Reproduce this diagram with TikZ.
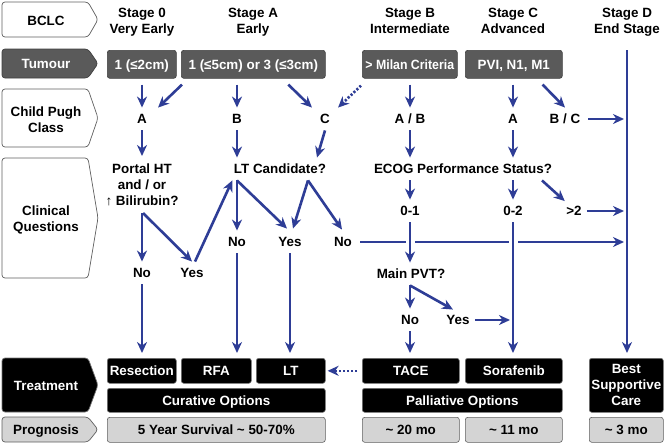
\documentclass[tikz,border=0pt]{standalone}
\usepackage{fontspec}
\usepackage{graphicx}
\setmainfont{Liberation Sans}
\usetikzlibrary{arrows.meta,calc}
\definecolor{arrblue}{HTML}{2E3D96}
\definecolor{tumgray}{HTML}{5A5A5A}
\definecolor{prggray}{HTML}{D4D4D4}
\definecolor{edgegray}{HTML}{5F5F5F}
\tikzset{
  basefont/.style={font=\fontsize{13.4}{16}\selectfont\bfseries},
  lbl/.style={basefont, inner xsep=5pt, inner ysep=6.5pt, text height=9.5pt, text depth=0pt},
  ml/.style={basefont, align=center, inner sep=0pt, anchor=north},
  arr/.style={draw=arrblue, line width=2.6pt, -{Stealth[length=11pt,width=10pt,inset=3.5pt]}},
  dotarr/.style={arr, dash pattern=on 2.2pt off 1.8pt},
  onetxt/.style={text height=9.5pt, text depth=0pt},
  tum/.style={basefont, fill=tumgray, draw=black!75, line width=0.6pt, rounded corners=2.5pt, text=white, inner sep=0pt},
  trt/.style={basefont, fill=black, draw=black!55, line width=0.6pt, rounded corners=2.5pt, text=white, inner sep=0pt},
  prg/.style={basefont, fill=prggray, draw=edgegray, line width=0.6pt, rounded corners=2.5pt, inner sep=0pt},
  chevw/.style={fill=white, draw=edgegray, line width=0.7pt},
  chevd/.style={fill=tumgray, draw=black!75, line width=0.7pt},
  chevb/.style={fill=black, draw=black!55, line width=0.7pt},
  chevg/.style={fill=prggray, draw=edgegray, line width=0.7pt},
}
\newcommand\mybox[7]{\node[#1, onetxt, anchor=north west, minimum width={(#5-#3)*1pt}, minimum height={(#6-#4)*1pt}] (#2) at (#3,#4) {#7};}
\newcommand\mychev[3]{\draw[#1, rounded corners=3pt] (2,#2) -- (88,#2) -- (98,{(#2+#3)/2}) -- (88,#3) -- (2,#3) -- cycle;}
\begin{document}
\begin{tikzpicture}[x=1pt,y=-1pt]
\useasboundingbox (0,0) rectangle (666,445);
% left chevrons
\mychev{chevw}{2}{37}
\mychev{chevd}{49}{78}
\mychev{chevw}{89}{147}
\mychev{chevw}{158}{278}
\mychev{chevb}{358}{412}
\mychev{chevg}{417}{442}
\node[lbl] (lBCLC) at (46,21) {BCLC};
\node[lbl, text=white] (lTum) at (46,64) {Tumour};
\node[ml] (lCP) at (46,107) {Child Pugh\\Class};
\node[ml] (lCQ) at (46,206) {Clinical\\Questions};
\node[lbl, text=white] (lTr) at (46,386) {Treatment};
\node[lbl] (lPr) at (46,430) {Prognosis};
% stages
\node[ml] (s0) at (142,8) {Stage 0\\Very Early};
\node[ml] (sA) at (253,8) {Stage A\\Early};
\node[ml] (sB) at (410,8) {Stage B\\Intermediate};
\node[ml] (sC) at (513,8) {Stage C\\Advanced};
\node[ml] (sD) at (627,8) {Stage D\\End Stage};
% tumour boxes
\mybox{tum}{t1}{107}{50}{176}{78}{1 (≤2cm)}
\mybox{tum}{t2}{181}{50}{325}{78}{1 (≤5cm) or 3 (≤3cm)}
\mybox{tum}{t3}{362}{50}{457}{78}{\scalebox{0.92}[1]{> Milan Criteria}}
\mybox{tum}{t4}{465}{50}{562}{78}{PVI, N1, M1}
% treatment boxes
\mybox{trt}{rRes}{107}{358}{176}{383}{Resection}
\mybox{trt}{rRFA}{181}{358}{251}{383}{RFA}
\mybox{trt}{rLT}{256}{358}{325}{383}{LT}
\mybox{trt}{rCur}{107}{388}{325}{412}{Curative Options}
\mybox{trt}{rTACE}{362}{358}{459}{383}{TACE}
\mybox{trt}{rSor}{465}{358}{562}{383}{Sorafenib}
\mybox{trt}{rPal}{362}{388}{562}{412}{Palliative Options}
\node[trt, align=center, anchor=north west, minimum width=74pt, minimum height=54pt] (rBSC) at (589,358) {Best\\Supportive\\Care};
% prognosis boxes
\mybox{prg}{p1}{107}{417}{325}{442}{5 Year Survival \textasciitilde{} 50-70\%}
\mybox{prg}{p2}{362}{417}{459}{442}{\textasciitilde{} 20 mo}
\mybox{prg}{p3}{465}{417}{562}{442}{\textasciitilde{} 11 mo}
\mybox{prg}{p4}{589}{417}{663}{442}{\textasciitilde{} 3 mo}
% child pugh labels
\node[lbl] (cA1) at (142,119) {A};
\node[lbl] (cB) at (237,119) {B};
\node[lbl] (cC) at (325,119) {C};
\node[lbl] (cAB) at (410,119) {A / B};
\node[lbl] (cA2) at (513,119) {A};
\node[lbl] (cBC) at (565,119) {B / C};
% clinical questions
\node[ml] (qP) at (142,164) {Portal HT\\and / or\\↑ Bilirubin?};
\node[lbl] (qLT) at (280,169) {LT Candidate?};
\node[lbl] (qE) at (463,169) {ECOG Performance Status?};
\node[lbl] (n1) at (142,273) {No};
\node[lbl] (y1) at (192,273) {Yes};
\node[lbl] (n2) at (237,242) {No};
\node[lbl] (y2) at (290,242) {Yes};
\node[lbl] (n3) at (343,242) {No};
\node[lbl] (e01) at (410,211) {0-1};
\node[lbl] (e02) at (513,211) {0-2};
\node[lbl] (e2) at (574,211) {>2};
\node[lbl] (mp) at (411,274) {Main PVT?};
\node[lbl] (n4) at (410,320) {No};
\node[lbl] (y4) at (458,320) {Yes};
\coordinate (dtop) at (627,50);
% tumour -> child pugh
\draw[arr, shorten <=6pt] (cA1 |- t1.south) -- (cA1.north);
\draw[arr] ($(t2.south west)+(1,6)$) -- ($(cA1.north east)+(6,0)$);
\draw[arr, shorten <=6pt] (cB |- t2.south) -- (cB.north);
\draw[arr] ($(t2.south)+(35,6)$) -- ($(cC.north west)+(-3,0)$);
\draw[dotarr] ($(t3.south west)+(-1,7)$) -- ($(cC.north east)+(3,0)$);
\draw[arr, shorten <=6pt] (cAB |- t3.south) -- (cAB.north);
\draw[arr, shorten <=6pt] (cA2 |- t4.south) -- (cA2.north);
\draw[arr] ($(t4.south east)+(-20,6)$) -- (cBC.north);
\draw[arr, shorten <=2.7pt, shorten >=3pt] (cBC.east) -- (dtop |- cBC);
\draw[arr, shorten >=5pt] (dtop) -- (dtop |- rBSC.north);
% child pugh -> questions
\draw[arr, shorten >=8pt] (cA1.south) -- (cA1 |- qP.north);
\draw[arr] (cB.south) -- (cB |- qLT.north);
\draw[arr] (cC.south) -- ($(qLT.north)+(37,0)$);
\draw[arr] (cAB.south) -- (cAB |- qE.north);
\draw[arr] (cA2.south) -- (cA2 |- qE.north);
% portal HT
\draw[arr] ($(qP.north)+(0,49)$) -- (n1.north);
\draw[arr] ($(qP.north)+(1,49)$) -- (y1.north);
\draw[arr] ($(y1.north)+(3,0)$) -- ($(qLT.south west)+(3.5,0)$);
% LT candidate
\draw[arr] (cB |- qLT.south) -- (n2.north);
\draw[arr] (cB |- qLT.south) -- ($(y2.north)+(-3,-2)$);
\draw[arr] ($(qLT.south)+(28,0)$) -- ($(y2.north)+(3,-2)$);
\draw[arr] ($(qLT.south)+(28,0)$) -- ($(n3.north)+(-1,-1)$);
\draw[arr, shorten <=3pt, shorten >=3pt] (n3.east) -- (dtop |- n3);
% ECOG
\draw[arr] (cAB |- qE.south) -- (e01.north);
\draw[arr] (cA2 |- qE.south) -- (e02.north);
\draw[arr] ($(qE.south)+(79,0)$) -- ($(e2.north west)+(3.6,1.5)$);
\draw[arr, shorten >=3pt] (e2.east) -- (dtop |- e2);
% gaps at crossings
\draw[white, line width=9pt] ($(e01 |- n3)+(0,-2.8)$) -- ($(e01 |- n3)+(0,2.8)$);
\draw[white, line width=9pt] ($(e02 |- n3)+(0,-2.8)$) -- ($(e02 |- n3)+(0,2.8)$);
\draw[arr] (e01.south) -- (e01 |- mp.north);
\draw[arr, shorten >=5pt] (e02.south) -- (e02 |- rSor.north);
% main PVT
\draw[arr] (cAB |- mp.south) -- (n4.north);
\draw[arr] (cAB |- mp.south) -- ($(y4.north)+(-5,1)$);
\draw[arr, shorten >=3pt] (y4.east) -- (e02 |- y4);
\draw[arr, shorten >=5pt] (n4.south) -- (n4 |- rTACE.north);
% to treatments
\draw[arr, shorten >=5pt] (n1.south) -- (n1 |- rRes.north);
\draw[arr, shorten >=5pt] (n2.south) -- (n2 |- rRFA.north);
\draw[arr, shorten >=5pt] (y2.south) -- (y2 |- rLT.north);
\draw[dotarr, shorten <=5pt, shorten >=2pt] (rTACE.west) -- (rLT.east);
\end{tikzpicture}
\end{document}
